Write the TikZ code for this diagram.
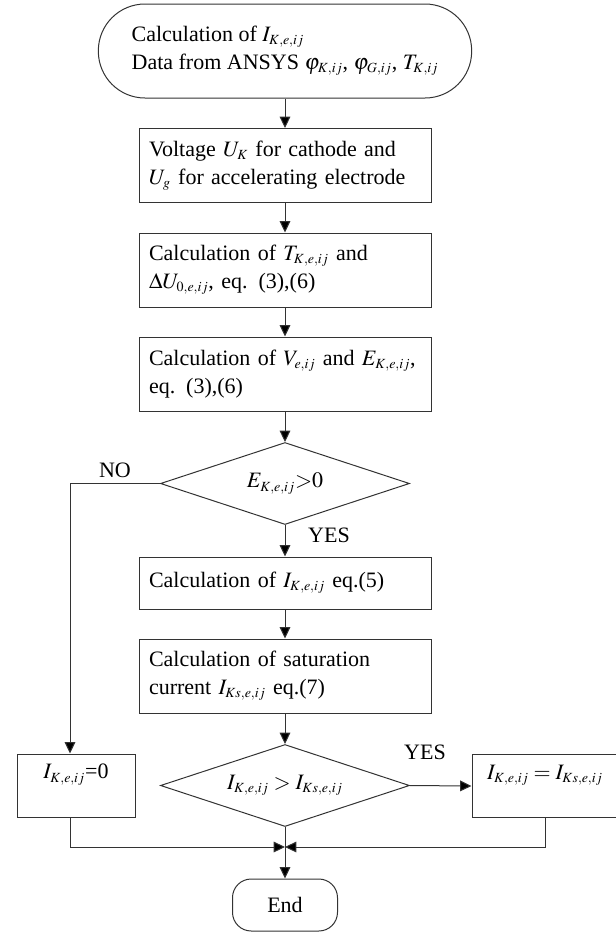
\documentclass[tikz,border=0pt]{standalone}
\usepackage{mathptmx}
\usepackage[no-math]{fontspec}
\setmainfont{Liberation Serif}
\DeclareMathSizes{16.5}{16.5}{10.5}{8}
\usetikzlibrary{arrows.meta,shapes.geometric}

\begin{document}
\begin{tikzpicture}[x=0.75pt,y=-0.75pt,
  font=\fontsize{16.5}{21}\selectfont,
  line width=0.75pt,
  >={Triangle[length=8.5pt,width=8pt,fill=black]},
  box/.style={draw=black!80,rectangle,text width=204pt,inner xsep=7.5pt,
    align=left,minimum height=55.5pt},
  side/.style={draw=black!80,rectangle,align=center,minimum height=47.25pt},
  decision/.style={draw=black!80,diamond,aspect=3,inner sep=0pt,
    minimum width=186.75pt,minimum height=61.5pt},
  term/.style={draw=black!80,rectangle,align=left}]

  \useasboundingbox (0,0) rectangle (615,933);

  \node[term,minimum width=280pt,minimum height=70.5pt,rounded corners=35pt]
    (start) at (285,51)
    {Calculation of $I_{K,e,ij}$\\Data from ANSYS $\varphi_{K,ij}$, $\varphi_{G,ij}$, $T_{K,ij}$};
  \node[box] (volt) at (285,165.5)
    {Voltage $U_K$ for cathode and\\$U_g$ for accelerating electrode};
  \node[box] (tcalc) at (285,270)
    {Calculation of $T_{K,e,ij}$ and\\$\Delta U_{0,e,ij}$, eq. (3),(6)};
  \node[box] (vcalc) at (285,374)
    {Calculation of $V_{e,ij}$ and $E_{K,e,ij}$,\\eq. (3),(6)};
  \node[decision] (echeck) at (285,483.5) {$E_{K,e,ij}{>}0$};
  \node[box,minimum height=39pt] (ikcalc) at (285,583)
    {Calculation of $I_{K,e,ij}$ eq.(5)};
  \node[box] (satcalc) at (285,676)
    {Calculation of saturation\\current $I_{Ks,e,ij}$ eq.(7)};
  \node[decision] (icheck) at (285,785.5) {$I_{K,e,ij} > I_{Ks,e,ij}$};

  \node[side,minimum width=88.5pt] (zero) at (76,785.5) {$I_{K,e,ij}$=0\\ \mbox{}};
  \node[side,minimum width=109.5pt] (equal) at (545,786)
    {$I_{K,e,ij} = I_{Ks,e,ij}$\\ \mbox{}};

  \node[term,minimum width=78.75pt,minimum height=39pt,rounded corners=14pt]
    (end) at (285,905) {End};

  \node (no) at (115,470) {NO};
  \node (yes) at (329,535) {YES};
  \node (yesb) at (425,752) {YES};

  \coordinate (nocol) at (70,483.5);
  \coordinate (merge) at (285,847);

  \begin{scope}[draw=black!80]
    \foreach \a/\b in {start/volt,volt/tcalc,tcalc/vcalc,vcalc/echeck,
      echeck/ikcalc,ikcalc/satcalc,satcalc/icheck}
      \draw[->] (\a.south) -- (\b.north);

    \draw[->] (echeck.west) -- (nocol) -- (nocol |- zero.north);
    \draw[->] (icheck.east) -- (equal.west);

    \draw[->] (nocol |- zero.south) -- (nocol |- merge) -- (merge);
    \draw[->] (equal.south) -- (equal.south |- merge) -- (merge);
    \draw[->] (icheck.south) -- (end.north);
  \end{scope}
\end{tikzpicture}
\end{document}
